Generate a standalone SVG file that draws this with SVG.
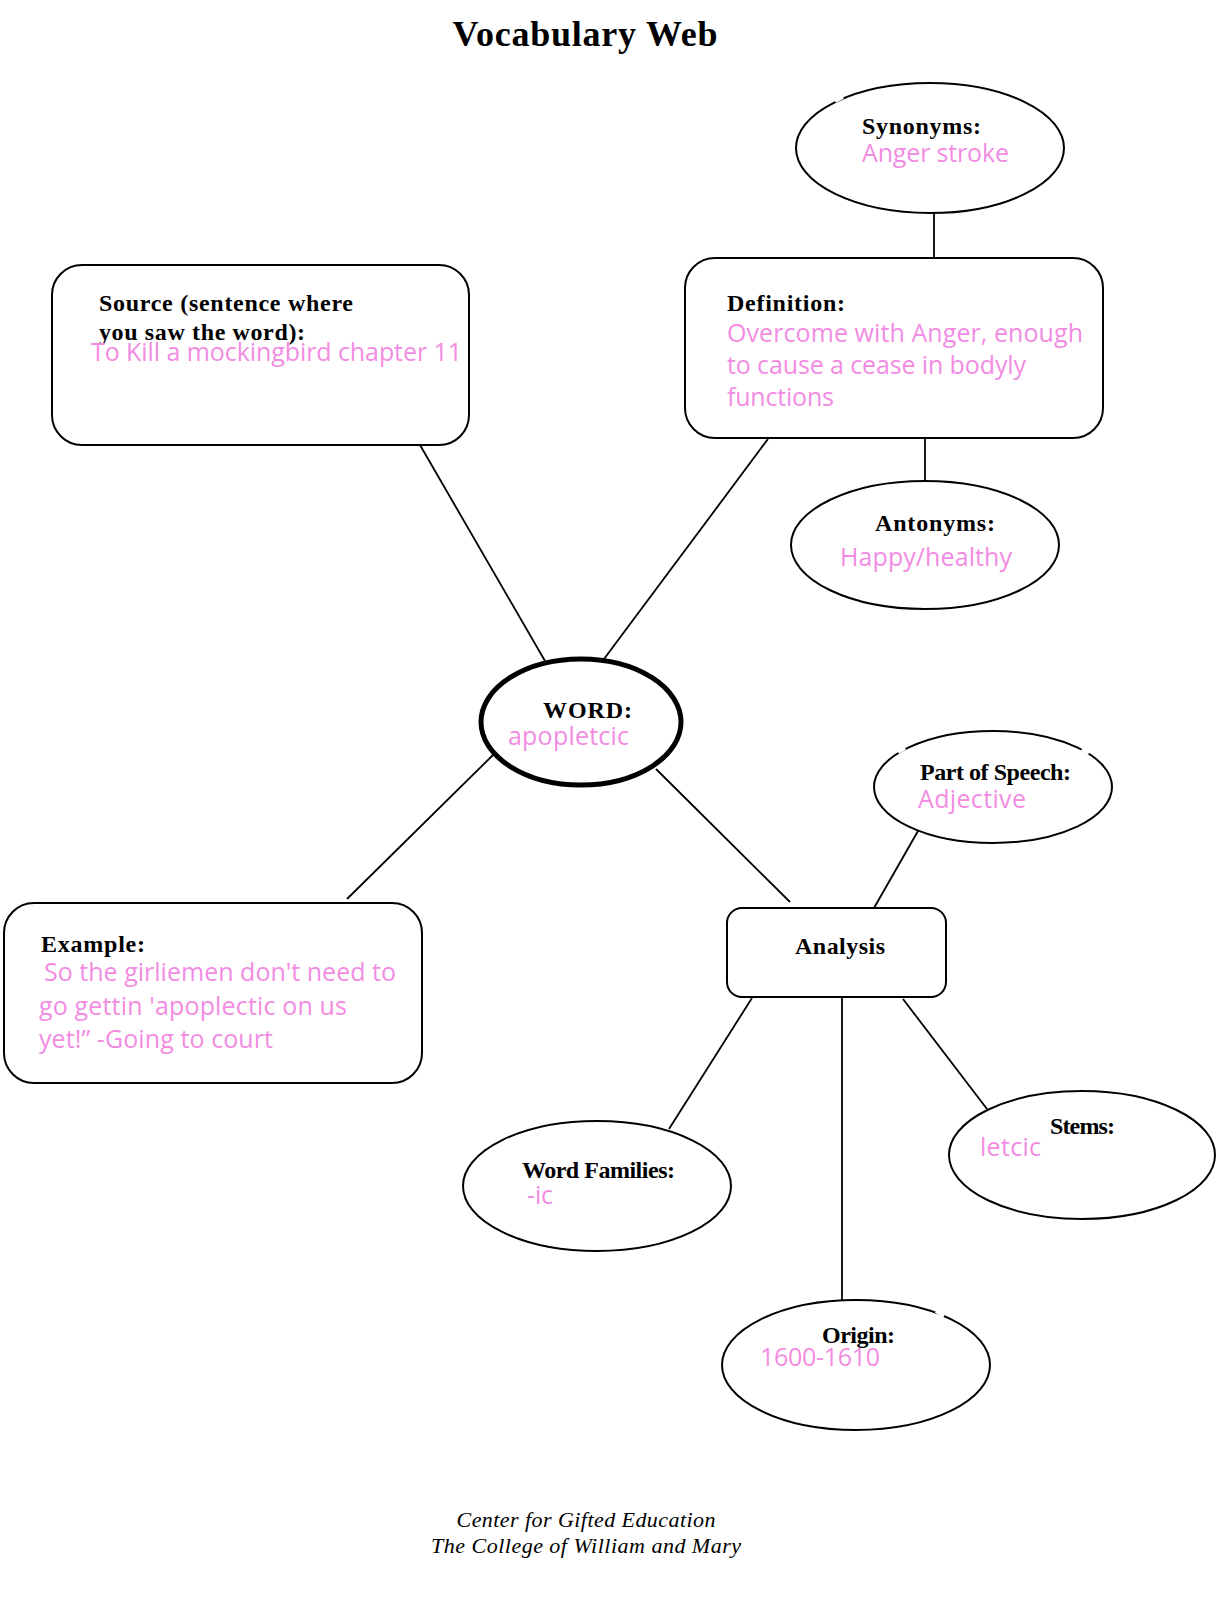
<svg xmlns="http://www.w3.org/2000/svg" width="1220" height="1600" viewBox="0 0 1220 1600">
<style>
.shape{fill:#fff;stroke:#000;stroke-width:2}
.word{fill:#fff;stroke:#000;stroke-width:5}
.lbl{font-family:"Liberation Serif","Times New Roman",serif;font-weight:bold;font-size:24px;fill:#000}
.ans{font-family:"Open Sans","Noto Sans",sans-serif;font-size:25px;fill:#f28ce2}
.title{font-family:"Liberation Serif","Times New Roman",serif;font-weight:bold;font-size:36px;fill:#000}
.foot{font-family:"Liberation Serif","Times New Roman",serif;font-style:italic;font-size:22px;fill:#000}
.conn line{stroke:#000;stroke-width:1.8}
.gap{stroke:#fff;stroke-width:4}
</style>
<rect width="1220" height="1600" fill="#fff"/>
<text class="title" x="585" y="46" text-anchor="middle" textLength="265">Vocabulary Web</text>

<g id="connectors" class="conn">
<line x1="934" y1="214" x2="934" y2="258"/>
<line x1="925" y1="438" x2="925" y2="480"/>
<line x1="545" y1="661" x2="420" y2="445"/>
<line x1="604" y1="659" x2="768" y2="439"/>
<line x1="493" y1="755" x2="347" y2="899"/>
<line x1="656" y1="769" x2="790" y2="902"/>
<line x1="874" y1="908" x2="918" y2="831"/>
<line x1="752" y1="998" x2="669" y2="1129"/>
<line x1="842" y1="998" x2="842" y2="1301"/>
<line x1="903" y1="999" x2="987" y2="1109"/>
</g>

<g id="synonyms">
<ellipse class="shape" cx="930" cy="148" rx="134" ry="65"/>
<line class="gap" x1="835" y1="101" x2="843" y2="97"/>
<text class="lbl" x="862" y="134" textLength="119">Synonyms:</text>
<text class="ans" x="862" y="162" textLength="147">Anger stroke</text>
</g>

<g id="source">
<rect class="shape" x="52" y="265" width="417" height="180" rx="30"/>
<text class="lbl" x="99" y="311" textLength="254">Source (sentence where</text>
<text class="lbl" x="99" y="340" textLength="206">you saw the word):</text>
<text class="ans" x="91" y="361" textLength="371">To Kill a mockingbird chapter 11</text>
</g>

<g id="definition">
<rect class="shape" x="685" y="258" width="418" height="180" rx="30"/>
<text class="lbl" x="727" y="311" textLength="118">Definition:</text>
<text class="ans" x="727" y="342" textLength="356">Overcome with Anger, enough</text>
<text class="ans" x="727" y="374" textLength="299">to cause a cease in bodyly</text>
<text class="ans" x="727" y="406" textLength="107">functions</text>
</g>

<g id="antonyms">
<ellipse class="shape" cx="925" cy="545" rx="134" ry="64"/>
<text class="lbl" x="875" y="531" textLength="120">Antonyms:</text>
<text class="ans" x="840" y="566" textLength="172">Happy/healthy</text>
</g>

<g id="word">
<ellipse class="word" cx="581" cy="722" rx="100" ry="63"/>
<text class="lbl" x="543" y="718" textLength="89">WORD:</text>
<text class="ans" x="508" y="745" textLength="121">apopletcic</text>
</g>

<g id="example">
<rect class="shape" x="4" y="903" width="418" height="180" rx="30"/>
<text class="lbl" x="41" y="952" textLength="104">Example:</text>
<text class="ans" x="44" y="981" textLength="352">So the girliemen don't need to</text>
<text class="ans" x="39" y="1015" textLength="308">go gettin 'apoplectic on us</text>
<text class="ans" x="39" y="1048" textLength="234">yet!” -Going to court</text>
</g>

<g id="part-of-speech">
<ellipse class="shape" cx="993" cy="787" rx="119" ry="56"/>
<line class="gap" x1="898" y1="752" x2="905" y2="748"/>
<line class="gap" x1="1082" y1="749" x2="1089" y2="753"/>
<text class="lbl" x="920" y="780" textLength="151">Part of Speech:</text>
<text class="ans" x="918" y="808" textLength="108">Adjective</text>
</g>

<g id="analysis">
<rect class="shape" x="727" y="908" width="219" height="89" rx="15"/>
<text class="lbl" x="795" y="954" textLength="90">Analysis</text>
</g>

<g id="word-families">
<ellipse class="shape" cx="597" cy="1186" rx="134" ry="65"/>
<text class="lbl" x="522" y="1178" textLength="153">Word Families:</text>
<text class="ans" x="527" y="1204" textLength="26">-ic</text>
</g>

<g id="stems">
<ellipse class="shape" cx="1082" cy="1155" rx="133" ry="64"/>
<text class="lbl" x="1050" y="1134" textLength="65">Stems:</text>
<text class="ans" x="980" y="1156" textLength="61">letcic</text>
</g>

<g id="origin">
<ellipse class="shape" cx="856" cy="1365" rx="134" ry="65"/>
<line class="gap" x1="936" y1="1311" x2="944" y2="1316"/>
<text class="lbl" x="822" y="1343" textLength="73">Origin:</text>
<text class="ans" x="760" y="1366" textLength="120">1600-1610</text>
</g>

<text class="foot" x="586" y="1527" text-anchor="middle" textLength="259">Center for Gifted Education</text>
<text class="foot" x="586" y="1553" text-anchor="middle" textLength="310">The College of William and Mary</text>
</svg>
